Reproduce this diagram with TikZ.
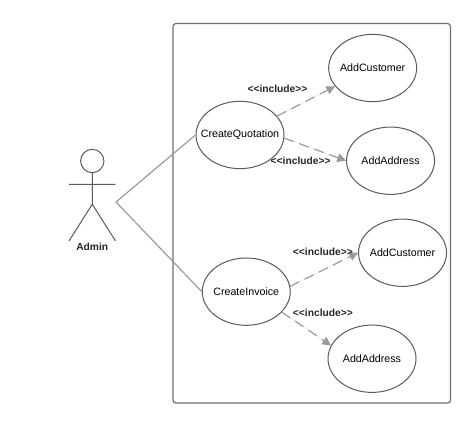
\documentclass[tikz,border=0pt]{standalone}
\usepackage{fontspec}
\setmainfont{Liberation Sans}
\usepackage{xcolor}
\definecolor{outline}{HTML}{5A5A5A}
\definecolor{frame}{HTML}{6E6E6E}
\definecolor{link}{HTML}{9A9A9A}
\usepackage{tikz}
\usetikzlibrary{arrows.meta, shapes.geometric, positioning}

\newcommand{\casename}[1]{\makebox[0pt]{#1}}

\tikzset{
  usecase/.style={draw=outline, fill=white, ellipse, line width=0.75pt, inner sep=0pt,
        minimum width=66pt, minimum height=50.5pt, font=\fontsize{8}{10}\selectfont, on grid},
  stereotype/.style={font=\fontsize{7.7}{9}\selectfont\bfseries, text=black!85, inner sep=0pt, on grid},
  assoc/.style={draw=link, line width=0.9pt},
  includes/.style={-{Triangle[length=6.5pt, width=6.5pt]}, draw=link, fill=link, line width=0.9pt,
        dash pattern=on 7.5pt off 4.5pt}
}

\begin{document}
\begin{tikzpicture}
  \useasboundingbox (0,0) rectangle (355.5pt,-320.25pt);

  \node[draw=frame, rounded corners=2pt, line width=0.9pt, inner sep=0pt,
        minimum width=208pt, minimum height=284.6pt] (system)
        at (233.8pt,-160pt) {};

  % actor
  \node[draw=outline, circle, line width=0.75pt, inner sep=0pt, minimum size=17.5pt] (head)
        at (69.2pt,-120.75pt) {};
  \coordinate[below=23.3pt of head.south] (hip);
  \coordinate[below=8.5pt of head.south] (shoulder);
  \coordinate[left=17.4pt of shoulder] (handl);
  \coordinate[right=17.4pt of shoulder] (handr);
  \coordinate[below left=27.5pt and 17.4pt of hip] (footl);
  \coordinate[below right=27.5pt and 17.4pt of hip] (footr);
  \coordinate (reach) at (87pt,-151.5pt);
  \draw[outline, line width=0.75pt] (head.south) -- (hip) (handl) -- (handr)
    (footl) -- (hip) -- (footr);
  \node[font=\fontsize{7.7}{9}\selectfont\bfseries, text=black!85, inner sep=0pt,
        below=1.2pt of hip |- footl] (admin) {Admin};

  % use cases
  \node[usecase] (quotation) at (180pt,-101.25pt) {\casename{CreateQuotation}};
  \node[usecase, above right=50.25pt and 99.5pt of quotation] (customera) {\casename{AddCustomer}};
  \node[usecase, below right=19.3pt and 112.9pt of quotation] (addressa) {\casename{AddAddress}};
  \node[usecase, below right=117.5pt and 4.7pt of quotation] (invoice) {\casename{CreateInvoice}};
  \node[usecase, above right=29.2pt and 117.2pt of invoice] (customerb) {\casename{AddCustomer}};
  \node[usecase, below right=50.3pt and 94.3pt of invoice] (addressb) {\casename{AddAddress}};

  \draw[assoc] (reach) -- (quotation.west);
  \draw[assoc] (reach) -- (invoice.west);

  \draw[includes] (quotation.27) -- (customera.206);
  \draw[includes] (quotation.356) -- (addressa.west);
  \draw[includes] (invoice.7) -- (customerb.west);
  \draw[includes] (invoice.330) -- (addressb.162);

  \node[stereotype, above right=34.5pt and 28.1pt of quotation] (labela) {<{}<include>{}>};
  \node[stereotype, below right=19pt and 45.5pt of quotation] (labelb) {<{}<include>{}>};
  \node[stereotype, above right=30pt and 57.5pt of invoice] (labelc) {<{}<include>{}>};
  \node[stereotype, below right=15.75pt and 57.5pt of invoice] (labeld) {<{}<include>{}>};
\end{tikzpicture}
\end{document}
